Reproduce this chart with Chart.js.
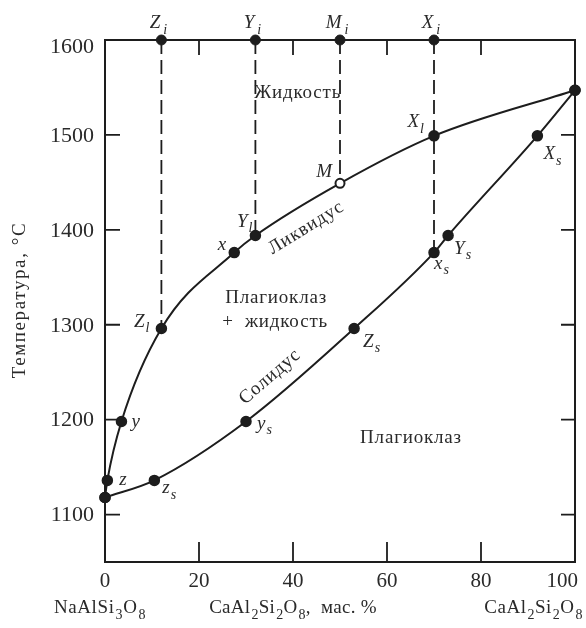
<!DOCTYPE html>
<html>
<head>
<meta charset="utf-8">
<script src="https://cdn.jsdelivr.net/npm/chart.js@4.4.1/dist/chart.umd.min.js"></script>
<style>
  html, body { margin: 0; padding: 0; background: #ffffff; }
  #wrap { width: 586px; height: 628px; }
</style>
</head>
<body>
<div id="wrap"><canvas id="c" width="586" height="628"></canvas></div>
<script>
// Diagram of the plagioclase series NaAlSi3O8 – CaAl2Si2O8:
// liquidus and solidus with the crystallisation paths of melts Z, Y, M, X.

// Liquidus (composition, wt.% CaAl2Si2O8 / temperature, °C)
const liquidusX = [0, 0.5, 3.5, 12, 27.5, 32, 50, 70, 100];
const liquidusT = [1118, 1136, 1198, 1296, 1376, 1394, 1449, 1499, 1547];
const liquidusNames = ['', 'z', 'y', 'Z_l', 'x', 'Y_l', 'M', 'X_l', ''];

// Solidus
const solidusX = [0, 10.5, 30, 53, 70, 73, 92, 100];
const solidusT = [1118, 1136, 1198, 1296, 1376, 1394, 1499, 1547];
const solidusNames = ['', 'z_s', 'y_s', 'Z_s', 'x_s', 'Y_s', 'X_s', ''];

// Bulk compositions of the initial melts and where their isopleths end
const bulkX = [12, 32, 50, 70];
const bulkNames = ['Z_i', 'Y_i', 'M_i', 'X_i'];
const bulkLowT = [1296, 1394, 1449, 1376];
const startT = 1600;

// Axes
const xTicks = [0, 20, 40, 60, 80, 100];
const yTicks = [1100, 1200, 1300, 1400, 1500, 1600];
const yTitle = 'Температура, °C';
const xLeftName = 'NaAlSi_3O_8';
const xMidName = 'CaAl_2Si_2O_8,  мас. %';
const xRightName = 'CaAl_2Si_2O_8';

// Phase fields and boundary names
const fieldLiquid = 'Жидкость';
const fieldMixed = ['Плагиоклаз', '+  жидкость'];
const fieldSolid = 'Плагиоклаз';
const liquidusName = 'Ликвидус';
const solidusName = 'Солидус';

const ink = '#1d1d1d';
const textInk = '#2a2a2a';
const SERIF = '"Liberation Serif", "Times New Roman", serif';

const pts = (xs, ts) => xs.map((x, i) => ({ x: x, y: ts[i] }));

// ---- rich text with subscripts ("_" marks the next character as a subscript)
function parseRich(s) {
  const segs = [];
  for (let i = 0; i < s.length; i++) {
    if (s[i] === '_' && i + 1 < s.length) {
      segs.push({ t: s[i + 1], sub: true });
      i++;
    } else if (segs.length && !segs[segs.length - 1].sub) {
      segs[segs.length - 1].t += s[i];
    } else {
      segs.push({ t: s[i], sub: false });
    }
  }
  return segs;
}

function drawRich(ctx, s, x, y, o) {
  const segs = parseRich(s);
  const style = o.italic ? 'italic ' : '';
  const fMain = style + o.size + 'px ' + SERIF;
  const fSub = style + Math.round(o.size * 0.72) + 'px ' + SERIF;
  const gap = o.subGap === undefined ? 1 : o.subGap;
  ctx.letterSpacing = (o.spacing || 0) + 'px';
  let w = 0;
  segs.forEach(sg => {
    ctx.font = sg.sub ? fSub : fMain;
    sg.w = ctx.measureText(sg.t).width + (sg.sub ? gap : 0);
    w += sg.w;
  });
  let cx = o.align === 'right' ? x - w : o.align === 'center' ? x - w / 2 : x;
  ctx.textAlign = 'left';
  ctx.textBaseline = 'alphabetic';
  segs.forEach(sg => {
    ctx.font = sg.sub ? fSub : fMain;
    ctx.fillText(sg.t, cx + (sg.sub ? gap : 0), y + (sg.sub ? o.size * 0.3 : 0));
    cx += sg.w;
  });
  ctx.letterSpacing = '0px';
}

// Label placement around the marked points: [dx, dy, align]
const labelPlacement = {
  'z': [12, 5, 'left'], 'y': [10, 5, 'left'], 'Z_l': [-12, -2, 'right'],
  'x': [-8, -3, 'right'], 'Y_l': [-3, -9, 'right'], 'M': [-8, -6, 'right'],
  'X_l': [-10, -9, 'right'],
  'z_s': [8, 13, 'left'], 'y_s': [11, 7, 'left'], 'Z_s': [9, 18, 'left'],
  'x_s': [0, 16, 'left'], 'Y_s': [6, 18, 'left'], 'X_s': [6, 23, 'left']
};

const diagramPlugin = {
  id: 'diagram',
  beforeDatasetsDraw(chart) {
    const { ctx, chartArea: a, scales: { x, y } } = chart;
    ctx.save();
    ctx.strokeStyle = ink;
    ctx.lineWidth = 2;
    ctx.strokeRect(a.left, a.top, a.right - a.left, a.bottom - a.top);
    // inward ticks
    ctx.lineWidth = 1.8;
    ctx.beginPath();
    yTicks.forEach(v => {
      const py = y.getPixelForValue(v);
      if (py <= a.top + 1 || py >= a.bottom - 1) return;
      ctx.moveTo(a.left, py); ctx.lineTo(a.left + 15, py);
      ctx.moveTo(a.right, py); ctx.lineTo(a.right - 14, py);
    });
    xTicks.forEach(v => {
      const px = x.getPixelForValue(v);
      if (px <= a.left + 1 || px >= a.right - 1) return;
      ctx.moveTo(px, a.top); ctx.lineTo(px, a.top + 15);
      ctx.moveTo(px, a.bottom); ctx.lineTo(px, a.bottom - 20);
    });
    ctx.stroke();
    ctx.restore();
  },
  afterDatasetsDraw(chart) {
    const { ctx, chartArea: a, scales: { x, y } } = chart;
    ctx.save();
    ctx.fillStyle = textInk;

    // y tick labels
    ctx.font = '22px ' + SERIF;
    ctx.textAlign = 'right';
    ctx.textBaseline = 'middle';
    yTicks.forEach(v => {
      const py = Math.max(y.getPixelForValue(v), a.top + 6);
      ctx.fillText(String(v), a.left - 11, py + 1);
    });
    // x tick labels
    ctx.font = '21px ' + SERIF;
    ctx.textBaseline = 'alphabetic';
    xTicks.forEach((v, i) => {
      const px = x.getPixelForValue(v);
      const last = i === xTicks.length - 1;
      ctx.textAlign = last ? 'right' : 'center';
      ctx.fillText(String(v), last ? px + 3 : px, a.bottom + 25);
    });

    // component names under the axis
    drawRich(ctx, xLeftName, a.left - 5, a.bottom + 51, { size: 19, align: 'center', spacing: 0.6 });
    drawRich(ctx, xMidName, x.getPixelForValue(40), a.bottom + 51, { size: 19, align: 'center', spacing: 0.3 });
    drawRich(ctx, xRightName, a.right + 8, a.bottom + 51, { size: 19, align: 'right', spacing: 0.5 });

    // y axis title
    ctx.save();
    ctx.translate(20, (a.top + a.bottom) / 2 - 1);
    ctx.rotate(-Math.PI / 2);
    ctx.font = '19px ' + SERIF;
    ctx.letterSpacing = '1.6px';
    ctx.textAlign = 'center';
    ctx.textBaseline = 'middle';
    ctx.fillText(yTitle, 0, 0);
    ctx.restore();

    // initial melts above the frame
    bulkNames.forEach((n, i) => {
      drawRich(ctx, n, x.getPixelForValue(bulkX[i]) - 3, a.top - 12, { size: 19, italic: true, align: 'center', subGap: 3 });
    });

    // labels of points on liquidus and solidus
    const labelSet = (xs, ts, names) => names.forEach((n, i) => {
      if (!n) return;
      const p = labelPlacement[n];
      drawRich(ctx, n, x.getPixelForValue(xs[i]) + p[0], y.getPixelForValue(ts[i]) + p[1],
        { size: 19, italic: true, align: p[2], subGap: 1 });
    });
    labelSet(liquidusX, liquidusT, liquidusNames);
    labelSet(solidusX, solidusT, solidusNames);

    // phase fields
    drawRich(ctx, fieldLiquid, x.getPixelForValue(41), y.getPixelForValue(1539), { size: 19, align: 'center', spacing: 0.8 });
    drawRich(ctx, fieldMixed[0], x.getPixelForValue(36.4), y.getPixelForValue(1323), { size: 19, align: 'center', spacing: 0.8 });
    drawRich(ctx, fieldMixed[1], x.getPixelForValue(36.2), y.getPixelForValue(1298), { size: 19, align: 'center', spacing: 0.8 });
    drawRich(ctx, fieldSolid, x.getPixelForValue(65.1), y.getPixelForValue(1175), { size: 19, align: 'center', spacing: 0.8 });

    // boundary names written along the curves
    const along = (name, xs, ts, i0, i1, cxv, ctv) => {
      const ang = Math.atan2(y.getPixelForValue(ts[i1]) - y.getPixelForValue(ts[i0]),
                             x.getPixelForValue(xs[i1]) - x.getPixelForValue(xs[i0]));
      ctx.save();
      ctx.translate(x.getPixelForValue(cxv), y.getPixelForValue(ctv));
      ctx.rotate(ang);
      ctx.font = '19px ' + SERIF;
      ctx.letterSpacing = '0.8px';
      ctx.textAlign = 'center';
      ctx.textBaseline = 'middle';
      ctx.fillText(name, 0, 0);
      ctx.restore();
    };
    along(liquidusName, liquidusX, liquidusT, 5, 6, 42.8, 1402);
    along(solidusName, solidusX, solidusT, 2, 3, 35.1, 1245);

    ctx.restore();
  }
};

const curveStyle = {
  showLine: true,
  cubicInterpolationMode: 'monotone',
  borderColor: ink,
  borderWidth: 2,
  pointRadius: 5,
  pointBorderColor: ink,
  pointBorderWidth: 1.5,
  clip: false
};

new Chart(document.getElementById('c'), {
  type: 'scatter',
  data: {
    datasets: [
      Object.assign({}, curveStyle, {
        data: pts(liquidusX, liquidusT),
        pointBackgroundColor: liquidusNames.map(n => n === 'M' ? '#ffffff' : ink),
        pointRadius: liquidusNames.map(n => n === 'M' ? 4.5 : 5),
        pointBorderWidth: liquidusNames.map(n => n === 'M' ? 2 : 1.5)
      }),
      Object.assign({}, curveStyle, {
        data: pts(solidusX, solidusT),
        pointBackgroundColor: ink
      }),
      {
        data: bulkX.map(v => ({ x: v, y: startT })),
        showLine: false,
        pointRadius: 5,
        pointBackgroundColor: ink,
        pointBorderColor: ink,
        clip: false
      },
      ...bulkX.map((v, i) => ({
        data: [{ x: v, y: startT }, { x: v, y: bulkLowT[i] }],
        showLine: true,
        borderColor: ink,
        borderWidth: 1.8,
        borderDash: [14, 6],
        pointRadius: 0,
        clip: false
      }))
    ]
  },
  options: {
    responsive: false,
    animation: false,
    layout: { padding: { left: 105, right: 11, top: 40, bottom: 66 } },
    plugins: { legend: { display: false }, tooltip: { enabled: false } },
    scales: {
      x: { type: 'linear', min: 0, max: 100, display: false },
      y: { type: 'linear', min: 1050, max: 1600, display: false }
    }
  },
  plugins: [diagramPlugin]
});
</script>
</body>
</html>
